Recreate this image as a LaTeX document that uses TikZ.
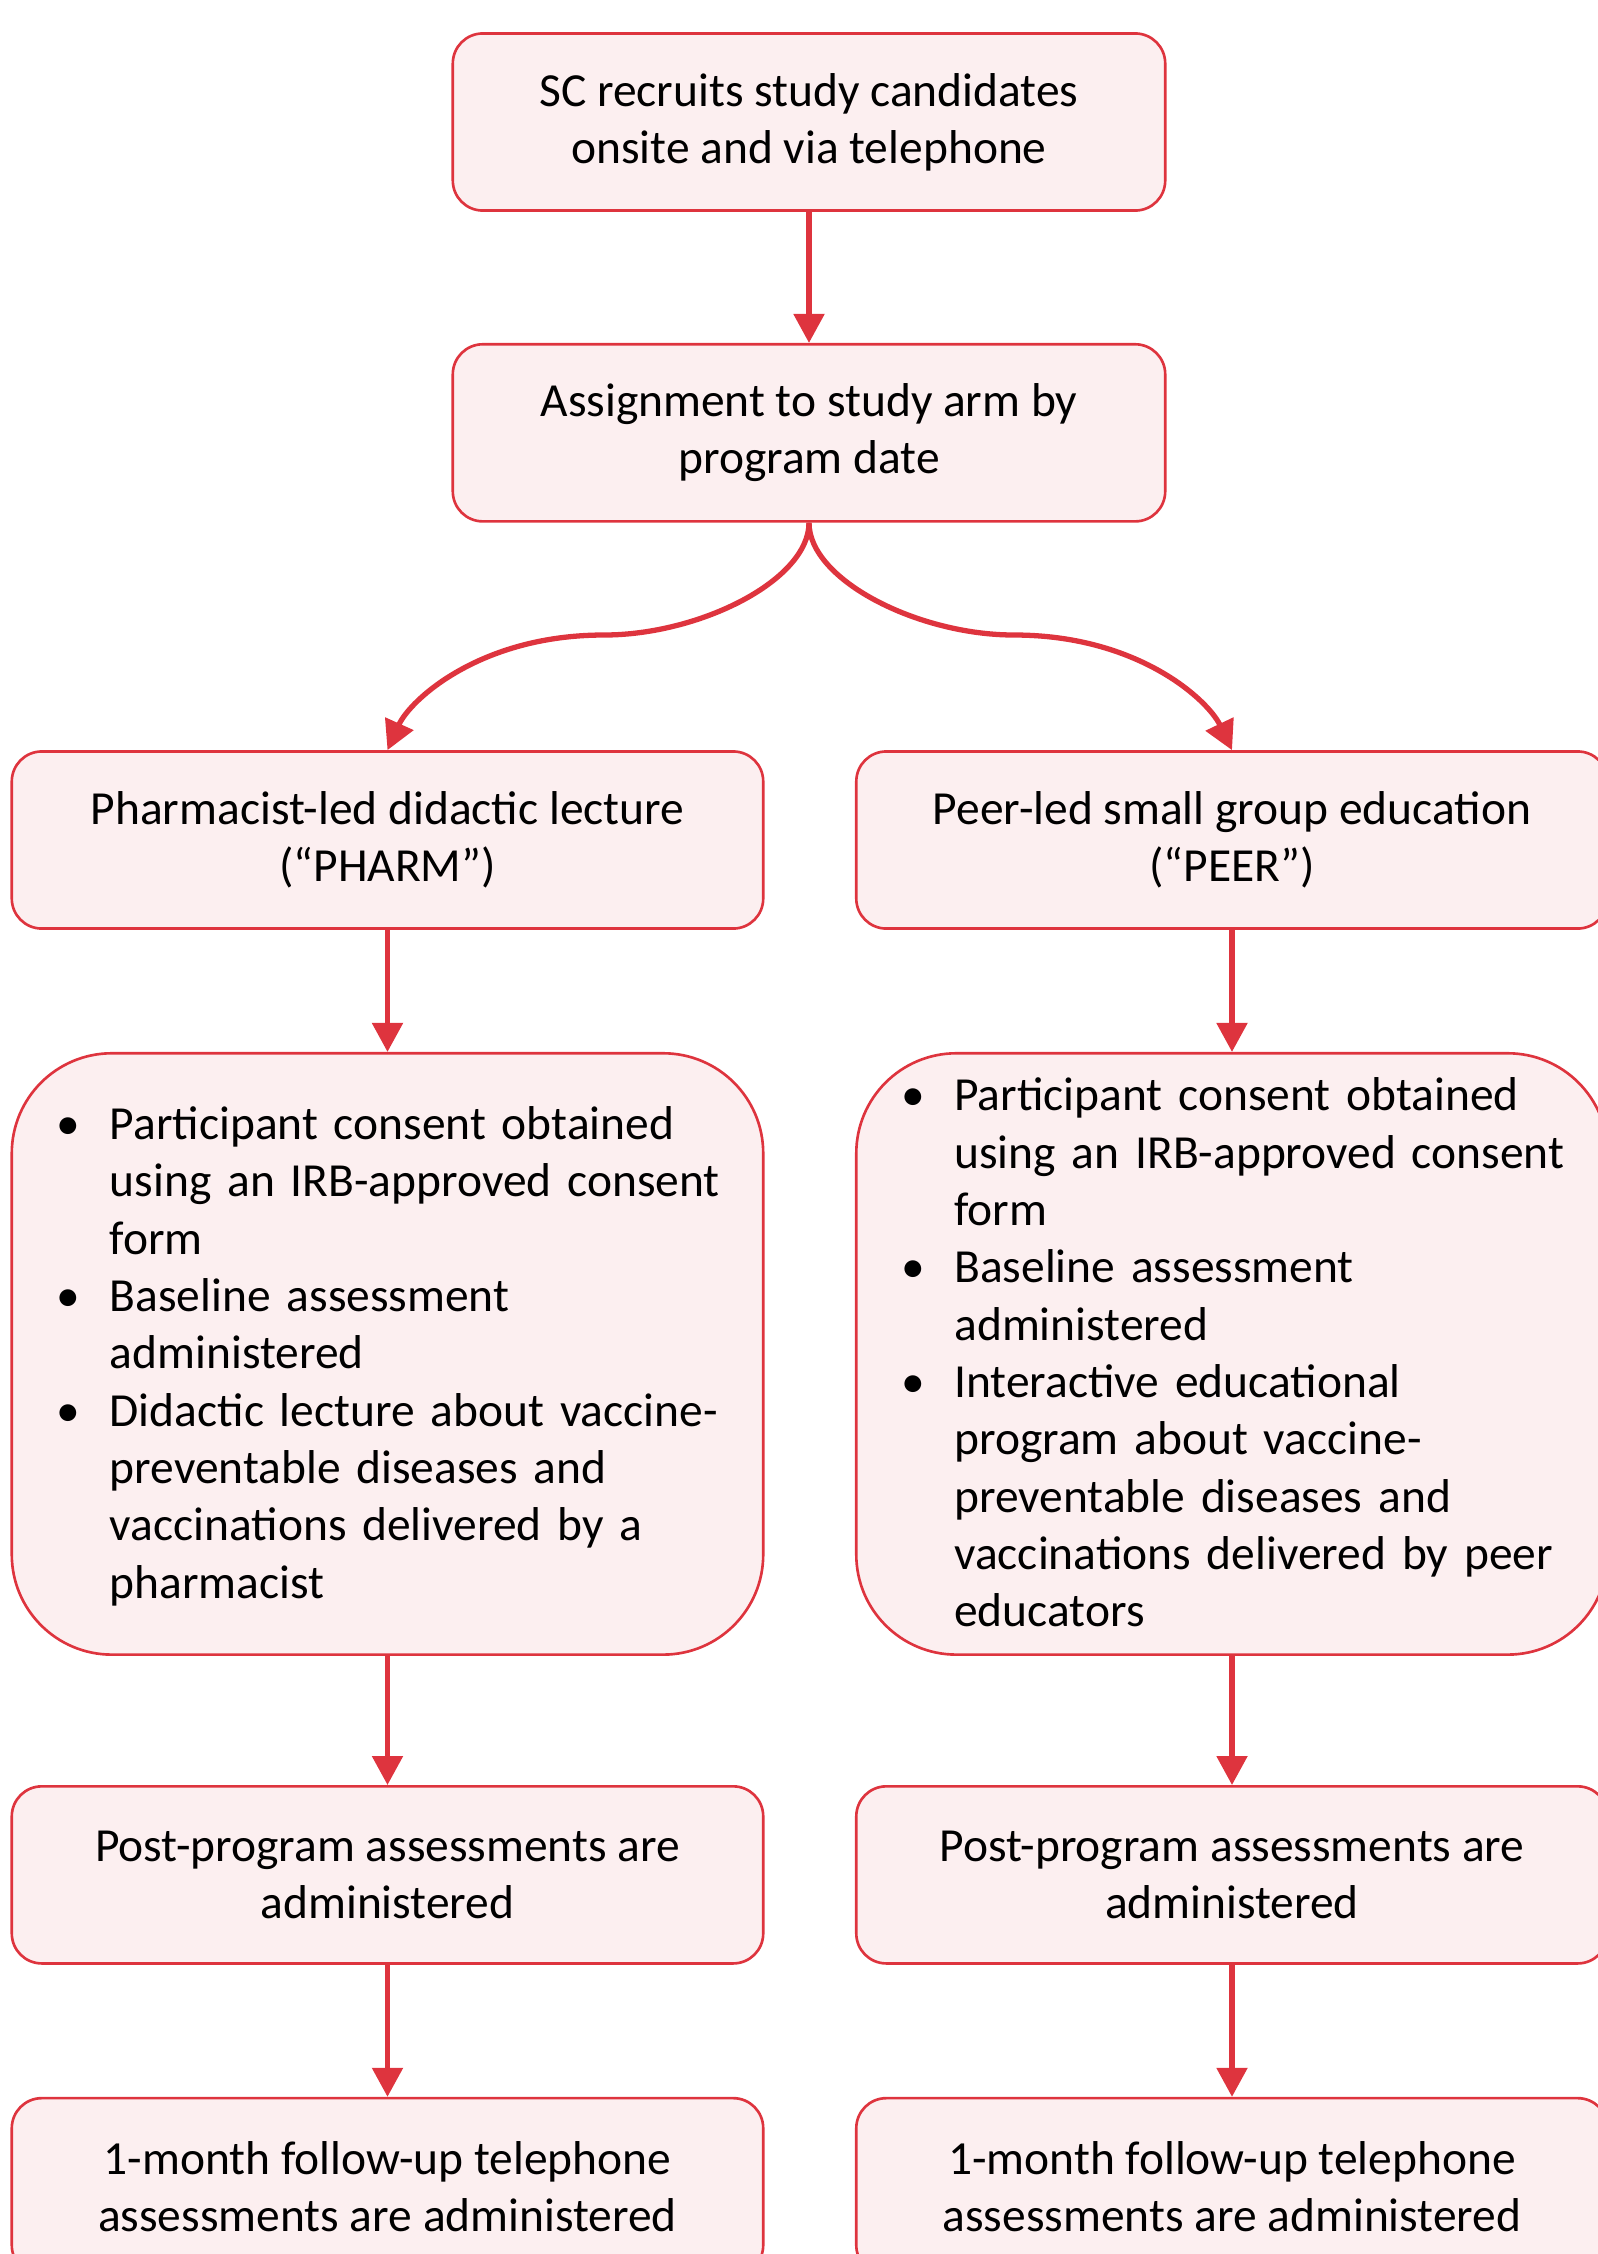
\documentclass[tikz,border=0pt]{standalone}
\usepackage{fontspec}
\setmainfont{Carlito}
\usetikzlibrary{positioning, arrows.meta}

\definecolor{flowred}{RGB}{222,52,62}
\definecolor{flowpink}{RGB}{252,239,240}

\newcommand{\bulletlist}[1]{\begin{tabular}{@{}p{0.53cm}@{}l@{}}\rule{0pt}{13.4pt}#1\end{tabular}}

\tikzset{
  flowbox/.style={draw=flowred, fill=flowpink, line width=0.75pt,
    rounded corners=0.3cm, minimum width=7.51cm, minimum height=1.77cm,
    align=center, inner sep=0pt, font=\fontsize{13.5}{16.3}\selectfont,
    execute at begin node={\rule{0pt}{1em}}},
  listbox/.style={flowbox, rounded corners=1cm, minimum height=6.01cm,
    align=left, text width=6.61cm, inner xsep=0.45cm,
    execute at begin node={}},
  flowarrow/.style={draw=flowred, line width=1.5pt,
    -{Triangle[length=0.29cm, width=0.3cm]}}
}

\begin{document}
\begin{tikzpicture}[x=0.01cm, y=-0.01cm, node distance=1.3cm]
\useasboundingbox (0,0) rectangle (1598,2254);

% top of the flow
\node[flowbox, minimum width=7.12cm] (recruit) at (809,122)
  {SC recruits study candidates\\onsite and via telephone};
\node[flowbox, minimum width=7.12cm, below=1.31cm of recruit] (assign)
  {Assignment to study arm by\\program date};

% the two study arms
\node[flowbox] (pharm) at (387.5,840)
  {Pharmacist-led didactic lecture\\(“PHARM”)};
\node[flowbox] (peer) at (1232,840)
  {Peer-led small group education\\(“PEER”)};

\node[listbox, below=1.22cm of pharm] (pharmlist) {\bulletlist{%
  \textbullet & Participant consent obtained\\
              & using an IRB-approved consent\\
              & form\\
  \textbullet & Baseline assessment\\
              & administered\\
  \textbullet & Didactic lecture about vaccine-\\
              & preventable diseases and\\
              & vaccinations delivered by a\\
              & pharmacist}};
\node[listbox, below=1.22cm of peer] (peerlist) {\bulletlist{%
  \textbullet & Participant consent obtained\\
              & using an IRB-approved consent\\
              & form\\
  \textbullet & Baseline assessment\\
              & administered\\
  \textbullet & Interactive educational\\
              & program about vaccine-\\
              & preventable diseases and\\
              & vaccinations delivered by peer\\
              & educators}};

\node[flowbox, below=1.29cm of pharmlist] (pharmpost)
  {Post-program assessments are\\administered};
\node[flowbox, below=1.29cm of peerlist] (peerpost)
  {Post-program assessments are\\administered};

\node[flowbox, below=1.32cm of pharmpost] (pharmcall)
  {1-month follow-up telephone\\assessments are administered};
\node[flowbox, below=1.32cm of peerpost] (peercall)
  {1-month follow-up telephone\\assessments are administered};

% connectors
\draw[flowarrow] (recruit) -- (assign);
\draw[flowarrow] (assign.south) .. controls (809,580) and (700,635) .. (604,635)
  .. controls (480,635) and (410,700) .. (pharm.north);
\draw[flowarrow] (assign.south) .. controls (809,580) and (918,635) .. (1014,635)
  .. controls (1138,635) and (1208,700) .. (peer.north);
\draw[flowarrow] (pharm) -- (pharmlist);
\draw[flowarrow] (peer) -- (peerlist);
\draw[flowarrow] (pharmlist) -- (pharmpost);
\draw[flowarrow] (peerlist) -- (peerpost);
\draw[flowarrow] (pharmpost) -- (pharmcall);
\draw[flowarrow] (peerpost) -- (peercall);
\end{tikzpicture}
\end{document}
